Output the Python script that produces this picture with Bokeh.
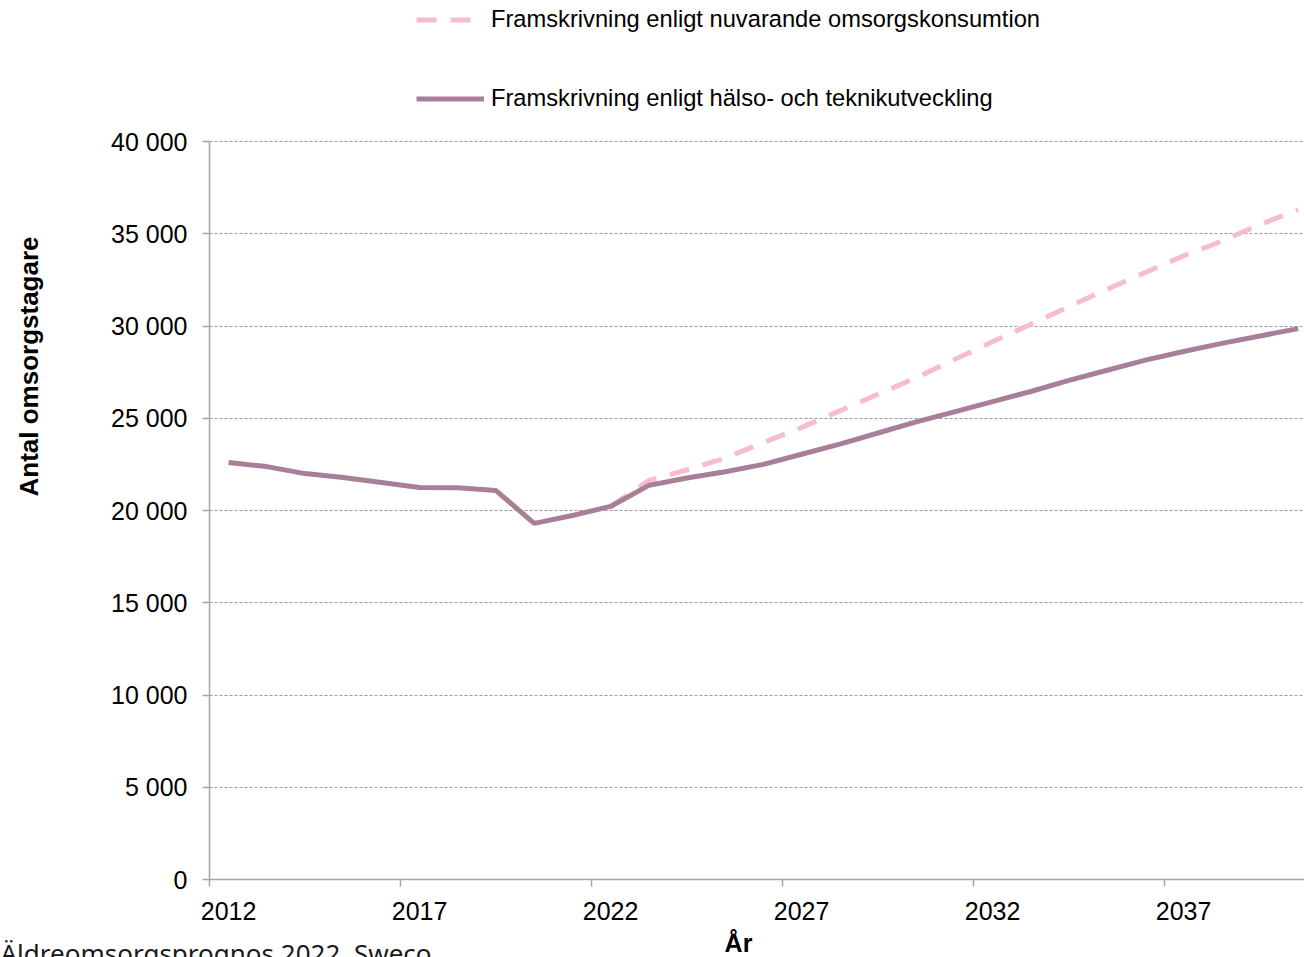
import math
from bokeh.plotting import figure
from bokeh.models import (ColumnDataSource, FixedTicker, CustomJSTickFormatter, Legend,
                          LegendItem, Label, Range1d)
from bokeh.transform import dodge
from bokeh.embed import file_html
from bokeh.resources import INLINE

# ---- data ----
years = list(range(2012, 2041))
health_tech = [22600, 22380, 22000, 21790, 21520, 21250, 21230, 21080, 19300, 19730,
               20220, 21360, 21760, 22100, 22500, 23050, 23600, 24200, 24800, 25350,
               25900, 26450, 27050, 27600, 28150, 28620, 29060, 29460, 29860]
proj_years = list(range(2022, 2041))
current_use = [20220, 21620, 22200, 22850, 23680, 24500, 25400, 26300, 27200, 28180,
               29150, 30100, 31050, 32000, 32900, 33800, 34600, 35500, 36300]
x_tick_years = [2012, 2017, 2022, 2027, 2032, 2037]
y_ticks = [0, 5000, 10000, 15000, 20000, 25000, 30000, 35000, 40000]
y_tick_labels = ["0", "5 000", "10 000", "15 000", "20 000", "25 000", "30 000", "35 000", "40 000"]
series_names = ["Framskrivning enligt nuvarande omsorgskonsumtion",
                "Framskrivning enligt hälso- och teknikutveckling"]

FONT = "Liberation Sans"

# ---- layout (pixels) ----
W, H = 1304, 957
AX_X, AX_Y, TOP_Y = 209, 879, 141          # y-axis x, x-axis y, 40 000 line y
PX_YEAR = 38.2
PX_UNIT = (AX_Y - TOP_Y) / 40000.0


def dx(px):
    return 2012 + (px - AX_X) / PX_YEAR


def dy(py):
    return (AX_Y - py) / PX_UNIT


src_a = ColumnDataSource(dict(year=years, v=health_tech))
src_b = ColumnDataSource(dict(year=proj_years, v=current_use))

p = figure(width=W, height=H, min_border=0,
           x_range=Range1d(dx(0), dx(W)), y_range=Range1d(dy(H), dy(0)),
           output_backend="svg", toolbar_location=None)
p.outline_line_color = None
p.background_fill_color = "white"
p.border_fill_color = "white"

r_dash = p.line(dodge("year", 0.5), "v", source=src_b, line_color="#f7bcd1", line_width=5,
                line_dash="20 14")
r_solid = p.line(dodge("year", 0.5), "v", source=src_a, line_color="#a97f98", line_width=5)

# x axis
xa = p.xaxis[0]
xa.fixed_location = 0
xa.bounds = (2012, dx(W))
xa.ticker = FixedTicker(ticks=[y + 0.5 for y in x_tick_years], minor_ticks=x_tick_years)
xa.formatter = CustomJSTickFormatter(code="return Math.floor(tick).toString();")
xa.major_tick_line_color = None
xa.major_tick_out = 0
xa.major_tick_in = 0
xa.minor_tick_line_color = "#a6a6a6"
xa.minor_tick_line_width = 1.5
xa.minor_tick_out = 7
xa.minor_tick_in = 0
xa.axis_line_color = "#a6a6a6"
xa.axis_line_width = 1.5
xa.major_label_text_font = FONT
xa.major_label_text_font_size = "25px"
xa.major_label_text_color = "black"
xa.major_label_standoff = 15

# y axis
ya = p.yaxis[0]
ya.fixed_location = 2012
ya.bounds = (0, 40000)
ya.ticker = FixedTicker(ticks=y_ticks, minor_ticks=[])
ya.major_label_overrides = {t: l for t, l in zip(y_ticks, y_tick_labels)}
ya.major_tick_line_color = "#a6a6a6"
ya.major_tick_line_width = 1.5
ya.major_tick_out = 7
ya.major_tick_in = 0
ya.minor_tick_line_color = None
ya.axis_line_color = "#a6a6a6"
ya.axis_line_width = 1.5
ya.major_label_text_font = FONT
ya.major_label_text_font_size = "25px"
ya.major_label_text_color = "black"
ya.major_label_standoff = 15

p.xgrid.grid_line_color = None
p.ygrid.grid_line_color = "#9a9a9a"
p.ygrid.grid_line_dash = "3 2"
p.ygrid.grid_line_width = 1
g = p.ygrid[0]
if "cross_bounds" in g.properties():
    g.cross_bounds = (2012, dx(W))
g.bounds = (0, 40000)

# legend (top of the canvas)
legend = Legend(items=[LegendItem(label=series_names[0], renderers=[r_dash]),
                       LegendItem(label=series_names[1], renderers=[r_solid])],
                location=(416, H - 112), orientation="vertical",
                padding=0, margin=0, spacing=52,
                glyph_width=68, glyph_height=27, label_height=27, label_standoff=7,
                label_text_font=FONT, label_text_font_size="23.7px", label_text_color="black",
                background_fill_alpha=0, border_line_alpha=0)
p.add_layout(legend, "center")

# axis titles and source note
p.add_layout(Label(x=dx(28), y=dy(366), text="Antal omsorgstagare", angle=math.pi / 2,
                   text_align="center", text_baseline="middle",
                   text_font=FONT, text_font_size="26px", text_font_style="bold",
                   text_color="black"))
p.add_layout(Label(x=dx(738), y=dy(942), text="År",
                   text_align="center", text_baseline="middle",
                   text_font=FONT, text_font_size="25px", text_font_style="bold",
                   text_color="black"))
p.add_layout(Label(x=dx(0), y=dy(934), text="Äldreomsorgsprognos 2022, Sweco",
                   text_align="left", text_baseline="top",
                   text_font="Noto Sans", text_font_size="26px",
                   text_color="#1a1a1a"))

open("out.html", "w").write(file_html(p, INLINE))
